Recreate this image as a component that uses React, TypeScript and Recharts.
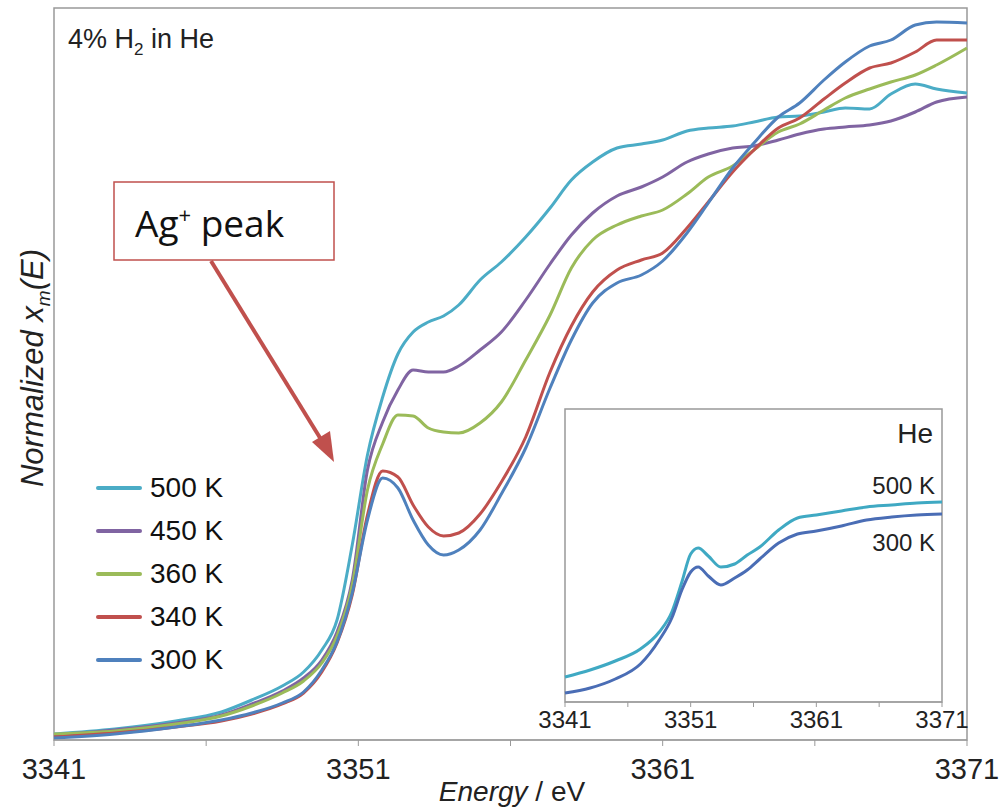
import React from "react";
import { LineChart, Line, XAxis, YAxis, ReferenceArea } from "recharts";

// photon energy grid (eV) for the main panel
const energy = [
  3341, 3343, 3345, 3346.5, 3347.5, 3348.5, 3349.2, 3349.8, 3350.3, 3350.8,
  3351.3, 3351.8, 3352.3, 3352.8, 3353.3, 3353.8, 3354.3, 3355, 3355.7, 3356.5,
  3357.3, 3358, 3358.7, 3359.5, 3360.3, 3361, 3361.8, 3362.5, 3363.3, 3364,
  3364.8, 3365.5, 3366.3, 3367, 3367.8, 3368.5, 3369.3, 3370, 3371,
];

// normalized absorption, 4% H2 in He
const k500 = [
  0.012, 0.022, 0.038, 0.056, 0.08, 0.108, 0.136, 0.18, 0.24, 0.39,
  0.57, 0.686, 0.772, 0.816, 0.836, 0.848, 0.87, 0.92, 0.956, 1.006,
  1.064, 1.12, 1.156, 1.184, 1.192, 1.2, 1.218, 1.224, 1.228, 1.236,
  1.246, 1.248, 1.256, 1.264, 1.262, 1.292, 1.312, 1.302, 1.294,
];
const k450 = [
  0.01, 0.02, 0.034, 0.05, 0.072, 0.098, 0.124, 0.16, 0.216, 0.32,
  0.54, 0.636, 0.7, 0.74, 0.736, 0.736, 0.748, 0.78, 0.816, 0.88,
  0.952, 1.01, 1.054, 1.088, 1.106, 1.126, 1.156, 1.172, 1.184, 1.188,
  1.2, 1.212, 1.222, 1.226, 1.23, 1.238, 1.256, 1.276, 1.286,
];
const k360 = [
  0.012, 0.018, 0.032, 0.048, 0.068, 0.094, 0.118, 0.154, 0.208, 0.31,
  0.5, 0.592, 0.65, 0.648, 0.624, 0.616, 0.614, 0.634, 0.676, 0.76,
  0.85, 0.944, 1.0, 1.03, 1.048, 1.06, 1.092, 1.126, 1.148, 1.18,
  1.216, 1.232, 1.26, 1.284, 1.302, 1.316, 1.33, 1.35, 1.384,
];
const k340 = [
  0.006, 0.014, 0.026, 0.038, 0.052, 0.072, 0.094, 0.136, 0.194, 0.29,
  0.45, 0.538, 0.526, 0.47, 0.426, 0.408, 0.414, 0.452, 0.516, 0.606,
  0.736, 0.828, 0.896, 0.94, 0.96, 0.974, 1.024, 1.076, 1.136, 1.18,
  1.224, 1.244, 1.282, 1.314, 1.344, 1.354, 1.376, 1.4, 1.4,
];
const k300 = [
  0.004, 0.012, 0.026, 0.04, 0.054, 0.074, 0.096, 0.14, 0.196, 0.294,
  0.44, 0.524, 0.504, 0.44, 0.39, 0.37, 0.38, 0.42, 0.492, 0.584,
  0.704, 0.8, 0.874, 0.914, 0.93, 0.958, 1.014, 1.074, 1.144, 1.194,
  1.246, 1.274, 1.32, 1.356, 1.388, 1.4, 1.43, 1.436, 1.434,
];

// inset: pure He
const insetEnergy = [
  3341, 3343, 3345, 3347, 3348.5, 3349.5, 3350.3, 3351, 3351.6, 3352.4, 3353.4,
  3354.5, 3355.5, 3356.5, 3358, 3359.5, 3361, 3363, 3365, 3367, 3369, 3371,
];
const inset500 = [
  0.125, 0.16, 0.205, 0.265, 0.35, 0.45, 0.6, 0.74, 0.77, 0.73, 0.675,
  0.69, 0.735, 0.775, 0.86, 0.92, 0.935, 0.955, 0.975, 0.985, 0.995, 1.0,
];
const inset300 = [
  0.045, 0.07, 0.115, 0.19, 0.31, 0.42, 0.56, 0.65, 0.675, 0.63, 0.585,
  0.62, 0.66, 0.715, 0.795, 0.84, 0.855, 0.88, 0.91, 0.925, 0.935, 0.94,
];

const xTicks = [3341, 3346, 3351, 3356, 3361, 3366, 3371];
const labelled = [3341, 3351, 3361, 3371];

const series = [
  { key: "k500", name: "500 K", color: "#4bacc6" },
  { key: "k450", name: "450 K", color: "#8064a2" },
  { key: "k360", name: "360 K", color: "#9bbb59" },
  { key: "k340", name: "340 K", color: "#c0504d" },
  { key: "k300", name: "300 K", color: "#4f81bd" },
];

const mainData = energy.map((e, i) => ({ e, k500: k500[i], k450: k450[i], k360: k360[i], k340: k340[i], k300: k300[i] }));
const insetData = insetEnergy.map((e, i) => ({ e, k500: inset500[i], k300: inset300[i] }));

const FONT = "'Liberation Sans', Arial, sans-serif";
const tickFmt = (v: number) => (labelled.includes(v) ? String(v) : "");

const App = () => {
  return (
    <div style={{ position: "absolute", left: 0, top: 0, width: 1000, height: 809, background: "#fff" }}>
      {/* main panel */}
      <LineChart width={1000} height={809} data={mainData} margin={{ top: 8, right: 33, left: 54, bottom: 29 }}>
        <XAxis
          dataKey="e"
          type="number"
          domain={[3341, 3371]}
          ticks={xTicks}
          interval={0}
          tickFormatter={tickFmt}
          height={40}
          tickSize={6}
          tickMargin={12}
          stroke="#999"
          tick={{ fill: "#222", fontSize: 29, fontFamily: FONT }}
        />
        <YAxis hide domain={[0, 1.464]} />
        <ReferenceArea x1={3341} x2={3371} y1={0} y2={1.464} fill="none" stroke="#999" strokeWidth={1.5} />
        {series.map((s) => (
          <Line key={s.key} type="monotone" dataKey={s.key} name={s.name} stroke={s.color} strokeWidth={3} dot={false} isAnimationActive={false} />
        ))}
      </LineChart>

      {/* legend */}
      <div style={{ position: "absolute", left: 96, top: 466, fontFamily: FONT }}>
        {series.map((s) => (
          <div key={s.key} style={{ display: "flex", alignItems: "center", height: 43 }}>
            <span style={{ width: 46, height: 4, borderRadius: 2, background: s.color, marginRight: 8 }} />
            <span style={{ fontSize: 28, color: "#111" }}>{s.name}</span>
          </div>
        ))}
      </div>

      {/* inset panel */}
      <div style={{ position: "absolute", left: 525, top: 399 }}>
        <LineChart width={470} height={340} data={insetData} margin={{ top: 10, right: 53, left: 40, bottom: 7 }}>
          <XAxis
            dataKey="e"
            type="number"
            domain={[3341, 3371]}
            ticks={xTicks}
            interval={0}
            tickFormatter={tickFmt}
            height={30}
            tickSize={5}
            tickMargin={4}
            stroke="#999"
            tick={{ fill: "#222", fontSize: 24, fontFamily: FONT }}
          />
          <YAxis hide domain={[0, 1.465]} />
          <ReferenceArea x1={3341} x2={3371} y1={0} y2={1.465} fill="#fff" stroke="#999" strokeWidth={1.5} />
          <Line type="monotone" dataKey="k500" stroke="#3fa9c3" strokeWidth={3} dot={false} isAnimationActive={false} />
          <Line type="monotone" dataKey="k300" stroke="#4a6db5" strokeWidth={3} dot={false} isAnimationActive={false} />
        </LineChart>
      </div>

      {/* annotations */}
      <svg width={1000} height={809} style={{ position: "absolute", left: 0, top: 0, pointerEvents: "none" }}>
        <text x={68} y={48} fontSize={27} fontFamily={FONT} fill="#222">
          4% H<tspan fontSize={17} dy={7}>2</tspan>
          <tspan dy={-7}> in He</tspan>
        </text>
        <text
          x={43}
          y={368}
          transform="rotate(-90 43 368)"
          textAnchor="middle"
          fontSize={31}
          fontStyle="italic"
          fontFamily={FONT}
          fill="#222"
        >
          Normalized x<tspan fontSize={19} dy={7}>m</tspan>
          <tspan dy={-7}>(E)</tspan>
        </text>
        <text x={512} y={801} textAnchor="middle" fontSize={28} fontFamily={FONT} fill="#222">
          <tspan fontStyle="italic">Energy</tspan> / eV
        </text>
        <text x={933} y={443} textAnchor="end" fontSize={28} fontFamily={FONT} fill="#222">He</text>
        <text x={935} y={494} textAnchor="end" fontSize={24} fontFamily={FONT} fill="#222">500 K</text>
        <text x={935} y={551} textAnchor="end" fontSize={24} fontFamily={FONT} fill="#222">300 K</text>

        <rect x={114} y={182} width={220} height={78} fill="#fff" stroke="#c0504d" strokeWidth={1.5} />
        <text x={135} y={237} fontSize={37} fontFamily="'Open Sans', Lato, sans-serif" fill="#111">
          Ag<tspan fontSize={22} dy={-14}>+</tspan>
          <tspan dy={14}> peak</tspan>
        </text>
        <line x1={211} y1={261} x2={322} y2={441} stroke="#c0504d" strokeWidth={4} />
        <polygon points="334,462 312,442 330,431" fill="#c0504d" />
      </svg>
    </div>
  );
};

export default App;
